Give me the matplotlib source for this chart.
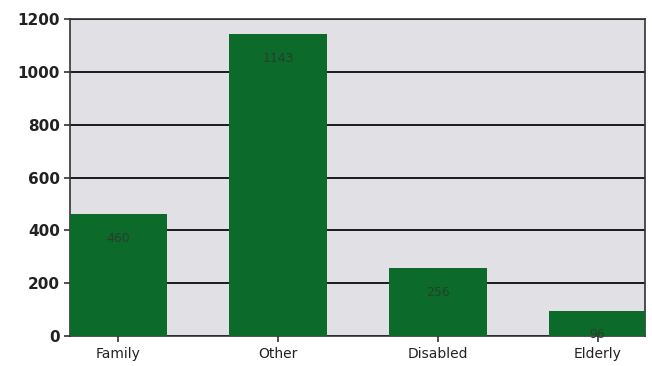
import matplotlib.pyplot as plt
import numpy as np

categories = ["Family", "Other", "Disabled", "Elderly"]
counts = [460, 1143, 256, 96]
yticks = [0, 200, 400, 600, 800, 1000, 1200]

fig = plt.figure(figsize=(6.52, 3.66), dpi=100)
ax = fig.add_axes([0.107, 0.082, 0.883, 0.866])
ax.set_facecolor("#e1e0e5")

x = np.arange(len(categories))
bars = ax.bar(x, counts, width=0.61, color="#0c6a2a", zorder=3)

# value labels sit just inside the top of each bar
for b, v in zip(bars, counts):
    ax.annotate(str(v), (b.get_x() + b.get_width() / 2, v),
                xytext=(0, -24), textcoords="offset pixels",
                ha="center", va="center", fontsize=9, color="#26402c", zorder=4)

ax.set_ylim(0, 1200)
ax.set_xlim(-0.305, 3.3)
ax.set_yticks(yticks)
ax.set_xticks(x)
ax.set_xticklabels(categories, fontsize=10, color="#222222")
for lab in ax.get_yticklabels():
    lab.set_fontweight("bold")
    lab.set_fontsize(11)
    lab.set_color("#222222")

ax.yaxis.grid(True, color="#1a1a1a", linewidth=1.4, zorder=1)
ax.set_axisbelow(True)
for side in ["left", "bottom", "top", "right"]:
    ax.spines[side].set_color("#333333")
    ax.spines[side].set_linewidth(1.2)
ax.tick_params(axis="y", length=4, width=1.2, color="#333333", pad=3)
ax.tick_params(axis="x", length=4, width=1.2, color="#333333", pad=4)

plt.savefig("out.png", dpi=100)
